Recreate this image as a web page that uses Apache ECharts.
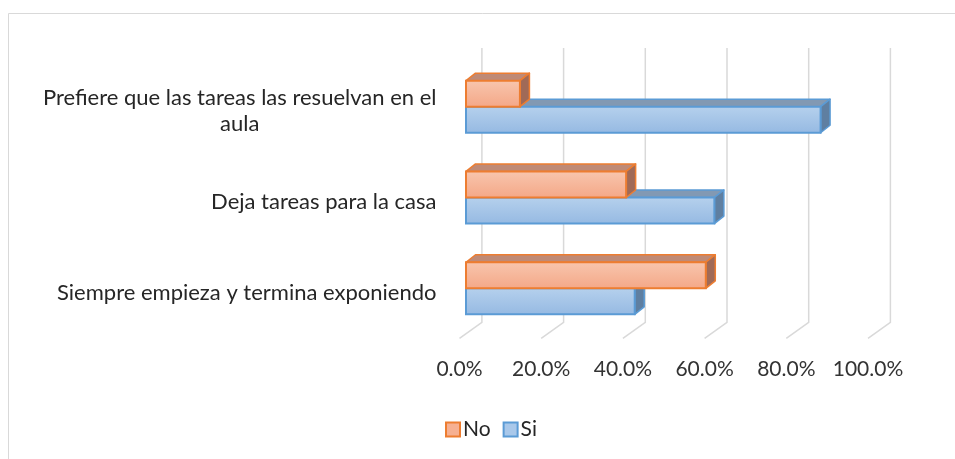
<!DOCTYPE html>
<html>
<head>
<meta charset="utf-8">
<script src="https://cdn.jsdelivr.net/npm/echarts@6/dist/echarts.min.js"></script>
<style>
  html, body { margin: 0; padding: 0; background: #fff; }
  #chart { width: 955px; height: 459px; }
</style>
</head>
<body>
<div id="chart"></div>
<script>
// data
const categories = [
  "Prefiere que las tareas las resuelvan en el aula",
  "Deja tareas para la casa",
  "Siempre empieza y termina exponiendo"
];
const noValues = [0.132, 0.392, 0.587];
const siValues = [0.868, 0.608, 0.413];
const tickValues = [0, 0.2, 0.4, 0.6, 0.8, 1.0];

// 3d look (px)
const FLOOR_DX = 22.4, FLOOR_DY = 16;   // front floor -> back wall
const BAR_SHIFT_X = 6.5, BAR_SHIFT_Y = -4.6;
const BAR_DX = 9.5, BAR_DY = 7.5;       // bar depth
const FONT = "Lato, 'Open Sans', sans-serif";
const FONT_SIZE = 21;
const CAT_FONT_SIZE = 22;

const styles = {
  No: { top: "#f8c6ae", bottom: "#f4a787", lid: "#bf8a76", side: "#a06a57", border: "#ed7d31" },
  Si: { top: "#b6d1ed", bottom: "#95b9e2", lid: "#8299b3", side: "#5f7fa1", border: "#5b9bd5" }
};

function wrap(text, maxChars) {
  const lines = [];
  let cur = "";
  text.split(" ").forEach(function (w) {
    if (cur && (cur + " " + w).length > maxChars) { lines.push(cur); cur = w; }
    else cur = cur ? cur + " " + w : w;
  });
  lines.push(cur);
  return lines;
}

function barRenderer(name, upper) {
  const st = styles[name];
  return function (params, api) {
    const cat = api.value(1);
    const c0 = api.coord([0, cat]);
    const c1 = api.coord([api.value(0), cat]);
    const h = api.size([0, 1])[1] * 0.287;
    const x0 = c0[0] + BAR_SHIFT_X;
    const x1 = c1[0] + BAR_SHIFT_X;
    const y = (upper ? c0[1] - h : c0[1]) + BAR_SHIFT_Y;
    return {
      type: "group",
      children: [
        {
          type: "polygon",
          shape: { points: [[x0, y], [x0 + BAR_DX, y - BAR_DY], [x1 + BAR_DX, y - BAR_DY], [x1, y]] },
          style: { fill: st.lid, stroke: st.border, lineWidth: 1.5, lineJoin: "round" }
        },
        {
          type: "polygon",
          shape: { points: [[x1, y], [x1 + BAR_DX, y - BAR_DY], [x1 + BAR_DX, y + h - BAR_DY], [x1, y + h]] },
          style: { fill: st.side, stroke: st.border, lineWidth: 1.5, lineJoin: "round" }
        },
        {
          type: "rect",
          shape: { x: x0, y: y, width: x1 - x0, height: h },
          style: {
            fill: new echarts.graphic.LinearGradient(0, 0, 0, 1, [
              { offset: 0, color: st.top }, { offset: 1, color: st.bottom }
            ]),
            stroke: st.border, lineWidth: 2
          }
        }
      ]
    };
  };
}

const chart = echarts.init(document.getElementById("chart"));

chart.setOption({
  animation: false,
  backgroundColor: "#fff",
  graphic: [{
    type: "rect",
    shape: { x: 8.5, y: 13.5, width: 960, height: 460 },
    style: { fill: "none", stroke: "#d9d9d9", lineWidth: 1 },
    silent: true
  }],
  grid: {
    left: 459.5, top: 65.9, width: 408.5, height: 272.4,
    outerBoundsMode: "none"
  },
  legend: {
    data: ["No", "Si"],
    left: 440, top: 414,
    itemWidth: 14, itemHeight: 14, itemGap: 12,
    icon: "rect",
    textStyle: { fontFamily: FONT, fontSize: FONT_SIZE, color: "#262626", padding: [0, 0, 0, -2] }
  },
  xAxis: {
    type: "value",
    min: 0, max: 1, interval: 0.2,
    axisLine: { show: false },
    axisTick: { show: false },
    splitLine: { show: false },
    axisLabel: {
      margin: 20,
      fontFamily: FONT, fontSize: FONT_SIZE, color: "#333",
      formatter: function (v) { return (v * 100).toFixed(1) + "%"; }
    }
  },
  yAxis: {
    type: "category",
    inverse: true,
    data: categories,
    axisLine: { show: false },
    axisTick: { show: false },
    splitLine: { show: false },
    axisLabel: {
      margin: 23,
      fontFamily: FONT, fontSize: CAT_FONT_SIZE, color: "#262626",
      lineHeight: 26,
      formatter: function (v) {
        return wrap(v, 44).map(function (l) { return "{c|" + l + "}"; }).join("\n");
      },
      rich: { c: { align: "center", fontFamily: FONT, fontSize: CAT_FONT_SIZE, color: "#262626", lineHeight: 26 } }
    }
  },
  series: [
    {
      name: "walls",
      type: "custom",
      silent: true,
      z: 1,
      data: tickValues.map(function (t) { return [t, 0]; }),
      encode: { x: 0, y: 1 },
      renderItem: function (params, api) {
        const p = api.coord([api.value(0), 0]);
        const cs = params.coordSys;
        const bottom = cs.y + cs.height;
        const bx = p[0] + FLOOR_DX;
        return {
          type: "polyline",
          shape: { points: [[bx, cs.y - 18], [bx, bottom - FLOOR_DY], [p[0], bottom]] },
          style: { fill: "none", stroke: "#d9d9d9", lineWidth: 1.5 }
        };
      }
    },
    {
      name: "No",
      type: "custom",
      z: 3,
      itemStyle: { color: "#f6b092", borderColor: "#ed7d31", borderWidth: 1.5 },
      data: noValues.map(function (v, i) { return [v, i]; }),
      encode: { x: 0, y: 1 },
      renderItem: barRenderer("No", true)
    },
    {
      name: "Si",
      type: "custom",
      z: 2,
      itemStyle: { color: "#a9c8ea", borderColor: "#5b9bd5", borderWidth: 1.5 },
      data: siValues.map(function (v, i) { return [v, i]; }),
      encode: { x: 0, y: 1 },
      renderItem: barRenderer("Si", false)
    }
  ]
});
</script>
</body>
</html>
